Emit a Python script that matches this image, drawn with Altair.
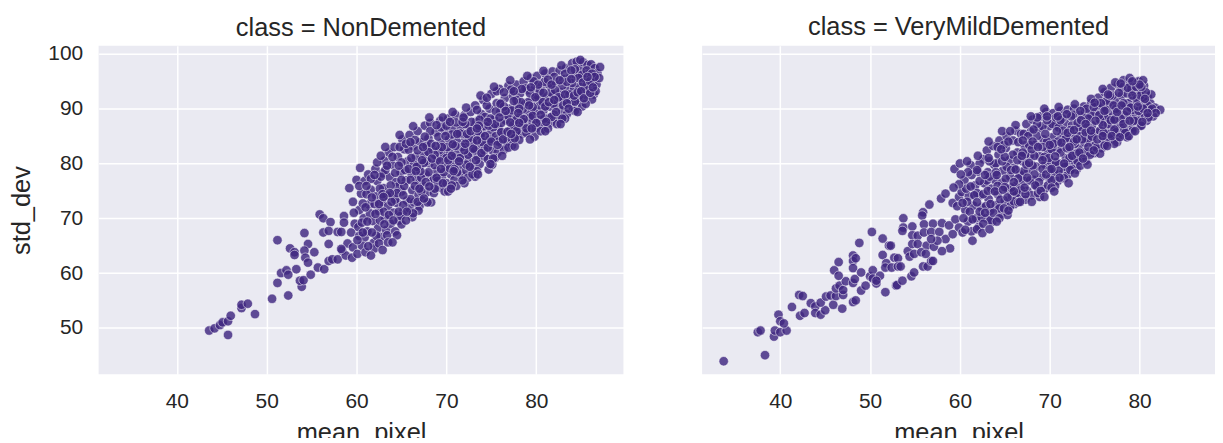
import altair as alt
import pandas as pd

left_sparse = [(43.6,49.5),(44.2,49.9),(44.8,50.5),(45.1,51),(45.7,51.2),(46,52.2),(45.7,48.7),(47.2,53.6),(47.2,54.2),(47.9,54.4),(48.7,52.5),
(50.6,55.3),(52.4,55.9),(51.2,58.2),(53.9,57.5),(53.7,58.6),(54.1,58.7),(51.6,60),(52.2,60.5),(52.4,59.7),(53.3,60.7),(54.9,59.7),(55.7,61),(56.4,60.7),
(51.2,66),(52.6,64.5),(53.1,63.8),(53.1,63.3),(54.2,67.3),(54.6,65.3),(54.2,64.1),(54.3,62.8),(54.6,61.9),(55.3,63.8),(56.9,65.3),(56.9,62.2),(57.3,62.5),(57.9,62.5),
(55.9,70.7),(56.3,70),(57.1,69.3),(56.3,67.4),(56.9,67.7),(57.9,67.5),(58.3,67.5),(59.4,67.4),(58.6,70.4),(58.6,69.2),(59,65.4),(58.4,64.1),(59.6,64.7),(58.8,63.2),(58.3,64.4),(60.3,66.8),(60.9,66.5)]

left_dense = [(59.2,75.5),(59.6,73),(60,77),(60.3,71.5),(59.8,69),(60.5,74.5),(60.9,76.8),(60.2,68.4),(60.8,70),(59.5,62.8),(60.1,63.5),(60.6,65),(61,63.8),(61.2,67.6),(61.4,72.5),(61.3,78),(61.6,75.2),(61.8,69.5),(61.9,65.5),(62,64.5),
(62.1,79),(62.3,76.8),(62.2,74),(62.5,71.3),(62.4,68.2),(62.7,66.6),(62.9,78.2),(62.8,73),(63.1,80.5),(63,75.5),(63.2,70),(63.3,67.8),(63.5,72.2),(63.6,82),(63.7,77.5),(63.8,69),(63.9,79.8),(64,74.5),(64.1,71),(64.2,83),
(64.4,76.6),(64.5,72.8),(64.6,81.2),(64.7,69.6),(64.9,78.4),(65,74.9),(65.1,84.4),(65.2,71.2),(65.3,82.6),(65.5,76.9),(65.6,73.2),(65.7,80.4),(65.9,85.2),(65.9,71.8),(66.1,78.2),(66.2,75.1),(66.3,83.2),(66.4,72.9),(66.6,81.2),(66.7,77),
(66.8,85.9),(66.9,74.2),(67,79.5),(67.1,83.9),(67.3,73.3),(67.4,76),(67.5,81.8),(67.6,86.9),(67.7,78),(67.9,74.8),(68,84.6),(68.1,80),(68.2,87.4),(68.4,76.7),(68.5,82.5),(68.6,74.6),(68.8,85.7),(68.9,78.6),(69,80.8),(69.1,75.6),
(69.3,87.8),(69.4,83.7),(69.5,77.5),(69.7,81.6),(69.8,86),(69.9,79.5),(70,76.4),(70.2,88.2),(70.3,84.4),(70.4,82),(70.5,78),(70.7,86.4),(70.8,80.2),(70.9,77),(71,88.9),(71.2,84),
(71.3,82),(71.4,79.3),(71.6,86.7),(71.7,77.9),(71.8,81.2),(72,88.8),(72.1,84.7),(72.2,78.7),(72.3,83),(72.5,80.4),(72.6,86.6),(72.7,89.4),(72.8,82),(73,79.3),(73.1,84.8),(73.2,90.6),(73.3,87.6),(73.5,81.2),(73.6,83.2),(73.7,79.9),
(73.9,89),(74,85.8),(74.1,91.6),(74.2,81.3),(74.4,87.3),(74.5,83.5),(74.6,80.8),(74.8,90),(74.9,85.5),(75,92.7),(75.1,82.4),(75.3,88),(75.4,84.2),(75.6,91),(75.7,82),(75.8,86.4),(75.9,93.6),(76,89.4),(76.2,83.4),(76.3,85.3),
(76.5,91.9),(76.6,87.9),(76.7,84),(76.9,94.2),(77,90),(77.1,86),(77.2,84.6),(77.4,92.4),(77.5,88.4),(77.7,85.4),(77.8,94.4),(77.9,90.6),(78,86.7),(78.2,92.8),(78.3,88.9),(78.4,85.4),(78.6,95),(78.7,90.8),(78.8,87.2),(79,93.4),
(79.1,85.9),(79.2,89.4),(79.4,95.6),(79.5,91.5),(79.6,87.4),(79.8,93.6),(79.9,86.4),(80,89.6),(80.1,96),(80.3,91.8),(80.4,87.9),(80.6,94.2),(80.7,86.9),(80.8,89.7),(81,96.4),(81.1,92.2),(81.2,88.2),(81.4,94.4),(81.5,90.4),(81.6,87.5),
(81.8,96.8),(81.9,92.4),(82,88.9),(82.2,94.8),(82.3,90.6),(82.5,88.2),(82.6,97),(82.7,93),(82.9,89.7),(83,95.4),(83.1,91.4),(83.3,97.4),(83.4,89),(83.5,93.4),(83.7,95.6),(83.8,91.4),(84,98.3),(84.1,90.2),(84.2,93.6),(84.4,96),
(84.5,98.6),(84.6,91.6),(84.8,94),(84.9,97.2),(85,91.2),(85.2,98.5),(85.3,93.4),(85.4,95.6),(85.6,92.4),(85.7,98),(85.9,96.4),(86,93.6),(86.1,98.1),(86.3,95),(86.5,97.4),(86.7,94.4),(86.8,96.5),(87.1,97.6),(86.4,92.6),(87,95.6)]

left_fill = [(60.7,72.7),(61.5,70.9),(62.6,69.6),(61.1,74.4),(62,72.6),(63.4,74.1),(62.6,75.4),(64.3,78.3),(63.4,66.9),(64.3,67.6),(65,68.9),(65.4,78.8),(65,80.2),(64.8,83),(65.8,82.5),(66.4,79.8),(66,73.5),(67,72.2),(66.5,84.3),(67.2,77.4),
(67.8,80.4),(67.8,83.2),(68.2,85.9),(68.7,79.7),(68.6,77.2),(69.2,82.4),(69.1,84.9),(69.8,74.9),(69.7,78.4),(70.1,83),(70.6,85.3),(70.4,79.1),(70.9,81.1),(71.1,75.9),(71.1,87.5),(71.7,83),(71.9,85.4),(72.4,77.4),(72.4,81.6),(72.8,87.6),
(72.9,83.8),(73.4,78.6),(73.8,85),(73.4,89.8),(74.2,82.4),(74.3,88.5),(74.8,84.4),(74.7,78.9),(75.2,86.6),(75.4,81),(75.5,89.5),(76.1,91),(76.1,87.4),(76.4,82.5),(76.8,88.8),(77.3,83.3),(77.2,93.5),(77.4,87),(77.8,91.6),(78.1,84.3),
(78.5,89.9),(78.8,93.7),(79.3,88.4),(79.1,91.2),(79.8,84.9),(79.7,95),(80.1,92.4),(80.5,85.9),(80.4,90.6),(80.9,88.2),(80.9,94.9),(81.3,86.4),(81.6,93),(81.9,90.9),(82,95.8),(82.3,87.2),(82.8,91.9),(82.9,94.2),(83.2,96.4),(83.2,88.2),
(83.7,92.6),(84,94.7),(84.3,89.6),(84.3,97.2),(84.8,92.4),(85.1,96.2),(85.1,90.4),(85.6,94.2),(85.6,97),(86.2,91.7),(86.6,93.2),(86.2,96.4),(64.6,75.8),(66.9,71.4),(68.3,72.9),(70.2,74.9),(72,76.4),(73.2,77.6),(68,78.4),(67.2,74.9),
(65.2,72.4),(63.8,76),(62.2,66.8),(63,71.2),(61.7,67.4),(69.9,85),(71.5,85.5),(72.2,79.8),(74.1,86.8),(75.6,93.2),(75.1,79.8),(77.8,88),(79.6,90.3),(78.3,91.2),(66.2,70.2),(67.6,84.9),(69.4,86.6),(71,83.2),(73.7,88),(75.5,85)]

left_fill2 = [(60.4,79.2),(61,72),(61.6,77.2),(62.3,80.2),(62.9,74.4),(63.2,78.8),(63.6,70.6),(64,81.2),(64.3,73.4),(64.9,70.4),(65.3,75.9),(65.5,83.6),(66,77),(66.3,70.9),(66.8,82.4),(67.1,78.6),(67.5,80.1),(67.9,72.9),(68.3,83.6),(68.7,81.6),
(69,76.8),(69.6,88.4),(69.5,83),(70,81),(70.6,76),(70.7,83.5),(71.2,78.4),(71.5,81),(72.1,87.2),(72.5,84.6),(72.9,78),(73.2,82.4),(73.5,85.9),(74,83.9),(74.5,90.6),(74.7,86.9),(75.2,80.9),(75.8,84),(76.1,85.7),(76.4,90.4),
(76.9,82.9),(77.3,89.7),(77.8,85.9),(78.1,90),(78.5,87.6),(78.9,85.6),(79.3,92.8),(79.6,88.7),(80,87.4),(80.4,93.2),(80.7,91.2),(81,90.4),(81.3,95.3),(81.7,88.5),(82.1,93.4),(82.5,92.1),(82.9,88.2),(83.2,92.6),(83.4,94.9),(83.9,97),
(84.3,91.3),(84.7,95.6),(85.2,94.8),(85.5,90.9),(86,95),(86.5,95.8),(60.7,67.4),(61.3,64.9),(62.5,65.4),(63.5,65.6),(64.5,66.9),(65.5,69.6),(66.8,73),(68.7,75.4),(70.5,75.4),(71.8,76.9),(73.5,78),(74.9,79.9),(76.2,81.4),(77.6,83.1),
(79.3,84.4),(81,85.9),(82.7,87.2),(84.6,89.4),(63.2,83),(64.8,85.2),(66.3,86.8),(68.1,88.4),(70.7,89.4),(72.2,90.2),(73.8,92.4),(75.3,94),(77.1,95.2),(79,96),(80.8,96.9),(82.8,97.9),(84.9,98.9),(62.7,81.4)]

left_fill3 = [(60.6,69.2),(61.2,69.4),(61.7,73.8),(62.1,70.8),(62.7,77.6),(63.1,68.9),(63.4,79.6),(63.9,73),(64.1,69.6),(64.7,71.2),(64.5,74.6),(65,77),(65.6,71.2),(65.8,79),(66,83.9),(66.5,75.9),(66.7,79.4),(67,75.4),(67.3,80.6),(67.7,76.6),
(67.5,73.6),(68,82.1),(68.4,80.9),(68.8,83.2),(68.9,77.4),(69.3,80.4),(69.6,76.4),(70,86.9),(70.2,80.6),(70.6,81.4),(70.9,79),(71.2,85.4),(71.4,80.4),(71.8,87.6),(72,82.4),(72.3,85.4),(72.7,85.9),(72.6,79.4),(73,82.7),(73.3,80.6),
(73.6,86.9),(73.9,81.9),(74.3,85),(74.6,82.9),(74.9,88.2),(75,84),(75.4,87.2),(75.7,83.4),(76,90.9),(76.3,84.4),(76.6,89.6),(76.8,85.8),(77.1,87.5),(77.5,91.4),(77.6,84.6),(78,89.2),(78.4,93.6),(78.6,88.1),(78.9,86.4),(79.2,90.6),
(79.5,86.4),(79.9,92.1),(80.2,94.4),(80.5,88.9),(80.8,92.9),(81.1,87.6),(81.4,91.2),(81.7,94.4),(82,91.6),(82.2,89.4),(82.6,95.2),(83,90.6),(83.4,91),(83.6,90),(83.9,95.4),(84.2,92.4),(84.6,93),(85,93.2),(85.3,91.9),(85.7,95.8),
(86,92.9),(86.3,93.9),(62.5,72.6),(63.7,74.6),(65.2,74.2),(66.6,78.6),(68.1,75.8),(69.4,79),(70.8,78.6),(72.1,83.6),(73.4,84.2),(74.6,87.6),(75.9,88.4),(77.2,85.4),(78.1,87.4),(79.4,93.9),(60.3,75.9),(61.1,75.9),(62,77.9),(63,73.9),
(64.7,79.6),(66.1,81),(67.4,83),(68.9,87),(70.4,87.6),(71.9,88.4),(73.4,86.4),(74.5,92),(76.4,93),(77.5,93.2),(59.7,71),(60.1,66),(61.6,63.2),(62.9,64.2),(64,65.6)]

right_sparse = [(33.7,43.9),(38.3,45),(37.5,49.2),(37.8,49.5),(39.3,48.4),(39.4,49.5),(40,49.2),(40.7,49.5),(39.8,52.4),(40,51.2),(40.4,50.8),(41.3,53.8),(42.1,56),(42.5,55.8),(42.2,52.2),(42.7,52.7),
(43.4,54.5),(43.9,53.9),(43.9,52.7),(44.5,52.4),(45,53.2),(44.5,54.6),(45.1,55.7),(45.6,55.9),(45.9,54.2),(46.9,53.5),(46.2,55.8),(47,56),(46.2,57.2),(46.6,57.7),(47,56.9),(47.3,58.5),(48.1,58.2),(48.3,58.9),(48.1,54.7),(48.4,55),(49,56.8),(49.5,57.7),
(46.5,62),(46,60.5),(46.5,59.5),(48.1,63.2),(48.1,62.2),(48.4,62.7),(48.1,60.9),(49,60.1),(48.8,65.5),(50.2,67.5),(50,59.4),(50.3,60.5),(50.3,59),(50.7,58.1),(51.1,59.5),(50.7,58.6),(51.7,56.5),
(51.4,66.3),(52.1,65),(52.3,65),(51.4,63.3),(51.8,61.8),(51.7,61),(52.4,61),(52.7,62.8),(53.1,62.7),(53.1,61.2),(53.4,61.2),(52.9,57.7),(53,57.8),(53.6,58.6),(54.6,59.4),(54.9,60.1),(55.9,61.2),(56.4,61.2),(56.8,62.2),(57,62.2),
(54.2,64),(54.4,63),(54.9,63.5),(53.7,70),(53.7,68.3),(53.6,67.7),(54.7,68.5),(54.7,66.9),(55.3,66.8),(56.6,72.5),(55.9,71.1),(55.8,70.5),(56,68.9),(57,69),(58,69.1),(58.8,68.7),(57.9,73.6),(58.4,74.5),(59.2,72.8),(59.7,72.2),(59.9,73.9),(59.5,69.8),(59.9,68.3),
(58.9,64.5),(58,64),(54.7,65.3),(55.3,65.3),(56.3,65),(57.1,64.8),(56,67.4),(56.8,67.5),(57.7,67.5),(58.4,66.2),(57.5,65.9),(56.8,66.2),(59.2,67.1),(60.3,67.4),(55.7,63.8),(56.2,63.5)]

right_dense = [(59.4,79),(60,80),(60.5,77),(60.2,74.8),(60.6,71.5),(60.9,69.4),(61,74),(61.2,79.7),(61.3,67.6),(61.5,72.3),(61.7,76),(61.8,70),(62,78.5),(62.1,68.4),(62.3,74.2),(62.4,72),(62.6,80.8),(62.7,76.4),(62.9,70),(63,82.4),
(63.1,78.4),(63.2,73.5),(63.4,71.4),(63.5,75.4),(63.7,83.2),(63.8,79.8),(63.9,77),(64,72.4),(64.2,74.4),(64.3,81.6),(64.4,84.2),(64.6,70.8),(64.7,76.5),(64.8,78.7),(65,73.2),(65.1,82.8),(65.2,85),(65.4,75.1),(65.5,80.6),(65.6,77.6),
(65.8,74),(65.9,84.2),(66,79.2),(66.2,86),(66.3,76),(66.4,82),(66.6,74.6),(66.7,78),(66.8,85.4),(67,80.4),(67.1,76.8),(67.2,83.3),(67.4,87.2),(67.5,75),(67.6,78.8),(67.8,81.5),(67.9,85.8),(68,74.2),(68.1,88),(68.2,77),
(68.4,83.4),(68.5,79.4),(68.6,75.8),(68.8,86.4),(68.9,81.3),(69,88.6),(69.1,77.6),(69.3,84.4),(69.4,75.3),(69.5,79.8),(69.6,89.4),(69.8,82.4),(69.9,86.8),(70,77.2),(70.1,80.4),(70.3,84.8),(70.4,89.2),(70.5,78.4),(70.7,87),(70.8,82.4),
(70.9,76.8),(71,80),(71.2,89.6),(71.3,85),(71.4,83),(71.5,78.2),(71.7,87.4),(71.8,81),(72,89.8),(72.1,79.7),(72.2,84.4),(72.4,82.4),(72.5,87),(72.7,90),(72.8,80.4),(72.9,85),(73,78.9),(73.2,83),(73.3,88.8),(73.5,81.2),
(73.6,86),(73.8,90.4),(73.9,83.8),(74,80.5),(74.1,88.2),(74.3,85.4),(74.4,82),(74.6,91),(74.7,87),(74.8,83.7),(75,81.9),(75.1,89.4),(75.3,85.6),(75.4,92),(75.5,83),(75.7,87.6),(75.8,90.2),(76,84.2),(76.1,93),(76.2,85.8),
(76.4,88.6),(76.5,91),(76.6,84),(76.8,93.8),(76.9,86.6),(77,89.2),(77.2,84.8),(77.3,91.4),(77.4,87.6),(77.6,94.4),(77.7,85.6),(77.8,89.6),(78,92.4),(78.1,85.2),(78.2,95.2),(78.4,87.4),(78.5,90.2),(78.6,92.8),(78.8,86.2),(78.9,88.8),
(79,94.6),(79.2,91.4),(79.3,86.6),(79.5,93),(79.6,89),(79.8,94.8),(79.9,87.4),(80,91.2),(80.2,93.2),(80.3,88.6),(80.5,94.2),(80.6,90.4),(80.8,87.8),(80.9,92.2),(81,89.4),(81.2,91),(81.5,88.6),(81.7,90.2),(82.3,89.8),(81.3,92.6)]

right_fill = [(60.8,73),(61.3,77.9),(61.9,74.6),(62.4,70.2),(63,76.9),(63.6,69.4),(64,80),(64.2,75.9),(64.5,73.4),(65.1,77.2),(65.3,70.6),(65.2,79.4),(65.9,81.6),(66.1,72.6),(66.5,83.9),(66.5,77.3),(67.1,78.6),(67.3,81.7),(67.1,85.4),(67.8,76.9),
(68.1,79.6),(68.3,81.4),(68.6,85),(68.9,73.9),(69.2,79),(69.2,86.8),(69.7,84),(69.8,76),(70.2,82.6),(70.3,87.2),(70.7,80.2),(70.6,75.9),(71,86.6),(71.2,82),(71.4,88.2),(71.8,84.6),(72,77.9),(72.3,86.1),(72.2,81),(72.6,88.9),
(72.8,83.6),(73.1,80.4),(73.3,86.6),(73.4,85),(73.8,82),(73.9,89.4),(74.2,84.4),(74.2,86.8),(74.6,88.9),(74.9,85.5),(75,83.2),(75.3,90.7),(75.6,86),(75.8,82.8),(76.2,88.2),(76.3,91.4),(76.7,85.4),(77,92.4),(77.1,88),(77.4,90),
(77.5,83.9),(77.9,86.6),(78,93.9),(78.3,88.8),(78.7,91),(78.6,84.8),(79.1,93.6),(79.3,89.8),(79.2,85.9),(79.7,91.8),(79.9,95),(80.1,86.9),(80.4,92),(80.6,88.8),(80.9,90.6),(81.2,89.8),(61.6,74.2),(63.3,80.4),(64.9,83.4),(66.3,74.6),
(67.3,73.4),(68.6,87.2),(70,78.9),(71.7,79.4),(73,81.8),(74.5,81.6),(75.6,88),(76.5,87.2),(77.4,85.7),(78.3,86),(62.2,76.8),(65.7,75.6),(67.7,83.4),(69.4,81.2),(70.9,84),(72.5,79),(74.1,90),(76,85.6),(78.8,90.4),(79.7,87.8)]

right_fill2 = [(60.3,72.8),(60.9,78.4),(61.1,71.2),(61.9,72.9),(62.2,80),(62.6,74.4),(62.9,72.2),(63.3,77.6),(63.4,69.6),(64,78.4),(64.4,71.8),(64.7,80.4),(65,75.7),(65.4,84),(65.6,72.2),(66,76.6),(66.4,80.6),(66.8,75.2),(67,82),(67.4,79.8),
(67.6,85),(68,82.6),(68.3,78),(68.6,88.4),(68.8,76.6),(69.2,83),(69.5,85.4),(69.9,81),(70.2,77),(70.4,83.6),(70.7,88.4),(71,78.7),(71.2,87.9),(71.5,86),(71.9,82.8),(72.3,78.8),(72.4,88.6),(72.7,84),(73.1,87.4),(73.4,79.6),
(73.6,84.4),(74,85.7),(74.3,88.2),(74.7,84.9),(74.9,90.3),(75.2,82.9),(75.5,88.8),(75.9,87),(76.1,83.3),(76.3,89.8),(76.8,87.9),(77.1,90.6),(77.2,86.2),(77.7,92.9),(77.9,88.2),(78.2,91),(78.4,85.6),(78.7,93.8),(79,90.2),(79.4,87.8),
(79.6,94),(79.9,89.6),(80.1,92.4),(80.4,90),(80.7,93),(81,88.4),(81.4,90),(81.8,89.2),(60.6,67.9),(61.9,68),(62.6,69),(63.7,71),(64.9,71.8),(66,73.1),(67.3,74.4),(68.7,74.6),(70.2,75.6),(71.6,77.3),(72.8,78.2),(74.2,79.8),
(75.6,81.8),(77.2,83.6),(78.8,85),(80.2,86.9),(62,81.4),(63.2,84),(64.7,85.9),(66.2,87),(67.9,88.6),(69.4,90),(71,90.3),(72.8,90.8),(74.6,91.8),(75.9,93.6),(77.3,94.8),(78.9,95.6),(80.4,95.2),(80.2,94)]

right_fill3 = [(60.1,78),(60.7,75.4),(61.4,69.8),(61.9,78.8),(62.2,71.2),(62.8,77.9),(63.1,75),(63.4,72.6),(63.9,74.9),(64.1,77.9),(64.4,70),(64.8,75.2),(65,81.2),(65.3,73.8),(65.7,78.8),(66,74.9),(66.2,78.9),(66.5,72.9),(66.9,81.4),(67.2,75.6),
(67.5,77.4),(67.7,80.1),(68.1,84),(68.4,76),(68.7,83),(69,75),(69.2,80.6),(69.6,78),(69.7,87.9),(70,83.4),(70.2,79),(70.6,81.3),(70.8,85.9),(71.1,77.4),(71.3,83.8),(71.6,80),(72,85.6),(72.2,83),(72.5,81.4),(72.7,86.1),
(73,84.4),(73.3,82),(73.5,87.9),(73.7,80.9),(74,87.2),(74.3,83),(74.6,86),(74.9,82.4),(75.1,87.8),(75.3,84.4),(75.7,91),(75.9,85),(76.1,89.6),(76.4,83.2),(76.7,92.4),(76.9,85),(77.2,88),(77.5,89.4),(77.8,84.8),(78,90.6),
(78.2,87.2),(78.6,89.5),(78.9,87.8),(79.2,92.4),(79.5,85.9),(79.8,90.4),(80,94.4),(80.3,87.6),(80.6,91.8),(80.9,89.2),(61.4,65.9),(62.5,67.3),(63.3,68),(64.1,69.4),(65.4,71.4),(66.7,73),(68,73),(69.4,73.9),(70.5,74.9),(72.1,76.4),
(63.2,81),(64.2,83),(65.6,85.9),(67,84.2),(68.2,86.2),(69.7,88.6),(70.9,88.6),(71.9,89),(73.4,89.6),(75,91.1),(76.5,92.6),(77.9,94.6),(79.2,95),(60.8,80.4),(59.9,76.2),(59.3,75.6),(60.4,70),(61.2,75.8),(62.8,71),(64.6,82.6)]

title_font = "Liberation Sans"
ink = "#262626"


def panel(points, title, width, domain_end, first):
    df = pd.DataFrame(points, columns=["mean_pixel", "std_dev"])
    y_axis = alt.Axis(values=[50, 60, 70, 80, 90, 100], title="std_dev", labelPadding=16, titlePadding=13) if first else \
        alt.Axis(values=[50, 60, 70, 80, 90, 100], title=None, labels=False)
    return alt.Chart(df, title=alt.TitleParams(title, offset=2 if first else 5)).mark_point(
        filled=True, size=90, color="#3f2780", fillOpacity=0.82, stroke="white", strokeWidth=0.8, strokeOpacity=0.65, clip=True
    ).encode(
        x=alt.X("mean_pixel:Q", scale=alt.Scale(domain=[31.3, domain_end], nice=False, zero=False),
                axis=alt.Axis(values=[40, 50, 60, 70, 80], title="mean_pixel", labelPadding=16, titlePadding=9)),
        y=alt.Y("std_dev:Q", scale=alt.Scale(domain=[41.5, 101.5], nice=False, zero=False), axis=y_axis),
    ).properties(width=width, height=330)


left = panel(left_sparse + left_dense + left_fill + left_fill2 + left_fill3, "class = NonDemented", 527, 89.7, True)
right = panel(right_sparse + right_dense + right_fill + right_fill2 + right_fill3, "class = VeryMildDemented", 515, 88.4, False)

chart = alt.hconcat(left, right, spacing=79).properties(
    background="white", padding={"left": 1, "top": 6, "right": 0, "bottom": -9}
).configure_view(fill="#EAEAF2", stroke=None).configure_axis(
    grid=True, gridColor="white", gridWidth=1.5, domain=False, ticks=False,
    labelFont=title_font, titleFont=title_font, labelFontSize=21, titleFontSize=25.5,
    labelColor=ink, titleColor=ink, titleFontWeight="normal"
).configure_title(font=title_font, fontSize=25.5, color=ink, fontWeight="normal", anchor="middle")

chart.save("out.html", embed_options={"renderer": "svg", "actions": False})
